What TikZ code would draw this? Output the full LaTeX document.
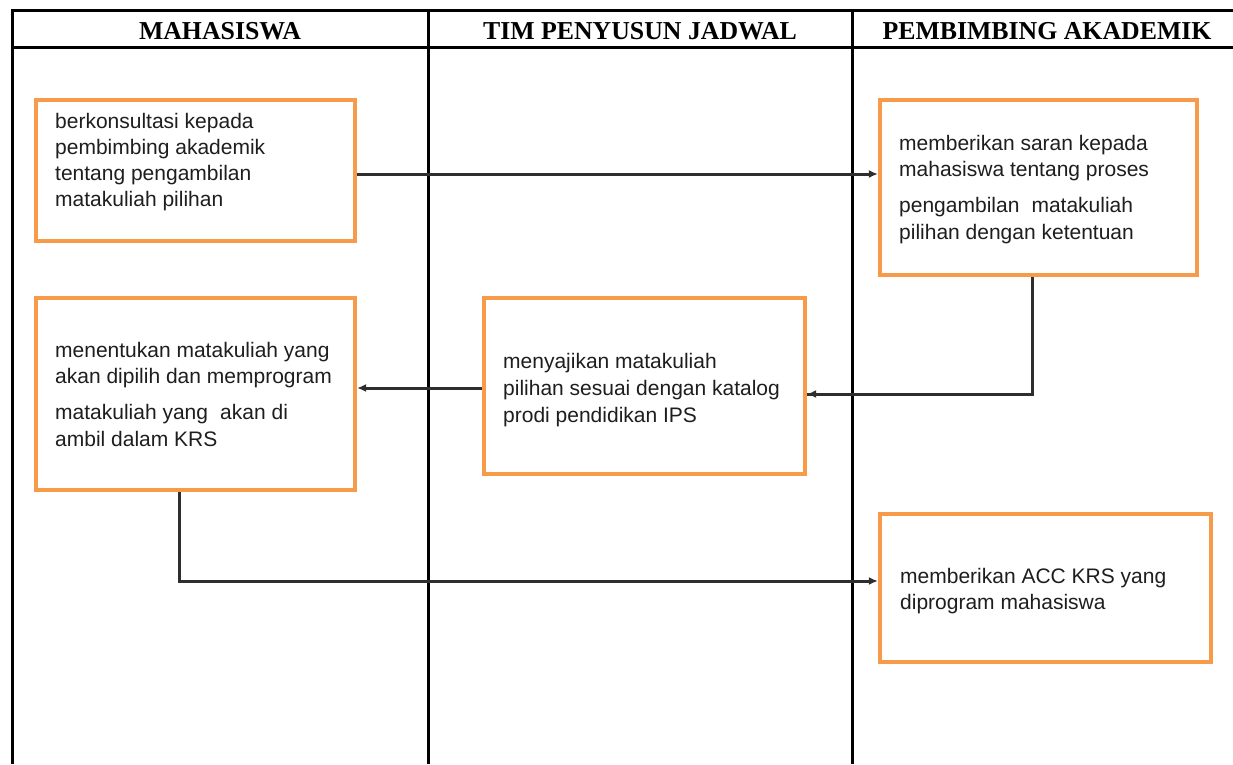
\documentclass[tikz,border=0pt]{standalone}
\usepackage{fontspec}
\setmainfont{Liberation Sans}
\newfontfamily\headfont{Liberation Serif}
\usetikzlibrary{arrows.meta,calc}
\definecolor{boxorange}{HTML}{F79A4A}
\definecolor{linkgray}{HTML}{2E2E2E}
\definecolor{txtgray}{HTML}{1E1E1E}
\begin{document}
\begin{tikzpicture}[x=1pt,y=-1pt,
  lane/.style={line width=3pt,black},
  headtxt/.style={anchor=base,inner sep=0pt,font=\headfont\bfseries\fontsize{25.8}{28}\selectfont},
  stepbox/.style={draw=boxorange,line width=4.2pt,fill=white,rectangle,inner sep=0pt},
  boxtxt/.style={anchor=base west,inner sep=0pt,text=txtgray,font=\fontsize{21}{26}\selectfont},
  conn/.style={draw=linkgray,line width=3pt,-{Latex[length=9pt,width=8pt]}},
  connplain/.style={draw=linkgray,line width=3pt}
]
\useasboundingbox (0,0) rectangle (1233,764);
% lanes
\draw[lane] (12,764) -- (12,10) -- (1240,10);
\draw[lane] (12,47) -- (1240,47);
\draw[lane] (428,10) -- (428,764);
\draw[lane] (852,10) -- (852,764);
\node[headtxt] (h1) at (220,39) {MAHASISWA};
\node[headtxt] (h2) at (640,39) {TIM PENYUSUN JADWAL};
\node[headtxt] (h3) at (1047,39) {PEMBIMBING AKADEMIK};
% boxes
\node[stepbox,minimum width=319pt,minimum height=141pt] (b1) at (195.5,170.5) {};
\node[stepbox,minimum width=317pt,minimum height=175pt] (b2) at (1038.5,187.5) {};
\node[stepbox,minimum width=319pt,minimum height=192pt] (b3) at (195.5,394) {};
\node[stepbox,minimum width=321pt,minimum height=176pt] (b4) at (644.5,386) {};
\node[stepbox,minimum width=331pt,minimum height=148pt] (b5) at (1045.5,588) {};
% texts
\node[boxtxt] (t1) at (55,128) {\begin{tabular}[t]{@{}l@{}}berkonsultasi kepada\\pembimbing akademik\\tentang pengambilan\\matakuliah pilihan\end{tabular}};
\node[boxtxt] (t2) at (899,150) {\begin{tabular}[t]{@{}l@{}}memberikan saran kepada\\mahasiswa tentang proses\\[10pt]pengambilan\hspace{0.3em} matakuliah\\[1pt]pilihan dengan ketentuan\end{tabular}};
\node[boxtxt] (t3) at (55,357) {\begin{tabular}[t]{@{}l@{}}menentukan matakuliah yang\\akan dipilih dan memprogram\\[10pt]matakuliah yang\hspace{0.3em} akan di\\[1pt]ambil dalam KRS\end{tabular}};
\node[boxtxt] (t4) at (503,368) {\begin{tabular}[t]{@{}l@{}}menyajikan matakuliah\\[1pt]pilihan sesuai dengan katalog\\[1pt]prodi pendidikan IPS\end{tabular}};
\node[boxtxt] (t5) at (900,583) {\begin{tabular}[t]{@{}l@{}}memberikan ACC KRS yang\\diprogram mahasiswa\end{tabular}};
% connectors
\draw[conn] ([yshift=-3.5pt]b1.east) -- ([yshift=-3.5pt]b1.east -| b2.west);
\coordinate (c2) at ([xshift=-6.5pt]b2.south);
\draw[connplain] (c2) |- ([yshift=-8pt]b4.east);
\draw[conn] ([yshift=-8pt]b4.east -| c2) -- ([yshift=-8pt]b4.east);
\draw[conn] ([yshift=-2pt]b4.west) -- ([yshift=-2pt]b4.west -| b3.east);
\coordinate (c3) at ([xshift=-16.5pt]b3.south);
\draw[conn] (c3) |- ([yshift=7pt]b5.west);
\end{tikzpicture}
\end{document}
